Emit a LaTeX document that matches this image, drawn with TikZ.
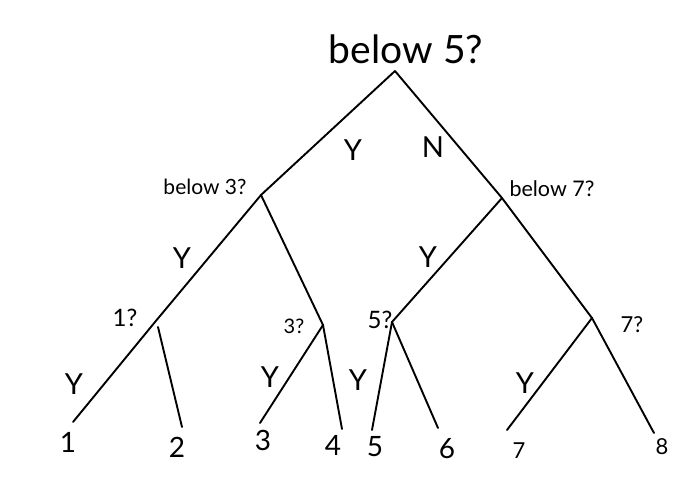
\documentclass[tikz,border=0pt]{standalone}
\usepackage{fontspec}
\setmainfont{Lato}
\tikzset{
  branch/.style={line width=1.9pt, line cap=round},
  lbl/.style={inner sep=0pt, anchor=base},
  big/.style={lbl, font=\fontsize{39}{42}\selectfont},
  yes/.style={lbl, font=\fontsize{29}{32}\selectfont},
  leaf/.style={lbl, font=\fontsize{28}{30}\selectfont},
  small/.style={lbl, font=\fontsize{22}{24}\selectfont},
  ask/.style={lbl, font=\fontsize{22}{24}\selectfont}
}

\begin{document}
\begin{tikzpicture}[x=1pt, y=-1pt]
  \useasboundingbox (0,0) rectangle (689,483);

  \coordinate (R) at (395,71);
  \coordinate (B3) at (261,195);
  \coordinate (B7) at (502,198);
  \coordinate (Q1) at (155,322);
  \coordinate (Q3) at (323,325);
  \coordinate (Q5) at (392,322);
  \coordinate (Q7) at (592,318);

  \coordinate (E1) at (73,422);
  \coordinate (E2) at (182,427);
  \coordinate (E3) at (260,423);
  \coordinate (E4) at (342,429);
  \coordinate (E5) at (372,430);
  \coordinate (E6) at (438,428);
  \coordinate (E7) at (507,430);
  \coordinate (E8) at (654,433);

  \draw[branch] (R) -- (B3);
  \draw[branch] (R) -- (B7);
  \draw[branch] (B3) -- (Q1);
  \draw[branch] (B3) -- (Q3);
  \draw[branch] (B7) -- (Q5);
  \draw[branch] (B7) -- (Q7);
  \draw[branch] (Q1) -- (E1);
  \draw[branch] (Q1) ++(3,5) -- (E2);
  \draw[branch] (Q3) -- (E3);
  \draw[branch] (Q3) -- (E4);
  \draw[branch] (Q5) -- (E5);
  \draw[branch] (Q5) -- (E6);
  \draw[branch] (Q7) -- (E7);
  \draw[branch] (Q7) -- (E8);

  \node[big] (tR) at (406,63) {below 5?};
  \node[ask, font=\fontsize{21}{23}\selectfont] (tB3) at (205,194) {below 3?};
  \node[ask, font=\fontsize{21.5}{23}\selectfont] (tB7) at (552,196) {below 7?};
  \node[ask, font=\fontsize{24}{26}\selectfont] (tQ1) at (125,326) {1?};
  \node[ask, font=\fontsize{20}{22}\selectfont] (tQ3) at (294,333) {3?};
  \node[ask, font=\fontsize{24}{26}\selectfont] (tQ5) at (380,328) {5?};
  \node[ask] (tQ7) at (632,332) {7?};

  \node[yes] (yR) at (353,160) {Y};
  \node[yes] (nR) at (433,157) {N};
  \node[yes] (yB3) at (182,268) {Y};
  \node[yes] (yB7) at (428,267) {Y};
  \node[yes] (yQ1) at (74,394) {Y};
  \node[yes] (yQ3) at (270,387) {Y};
  \node[yes] (yQ5) at (358,390) {Y};
  \node[yes] (yQ7) at (525,393) {Y};

  \node[leaf] (n1) at (68,452) {1};
  \node[leaf] (n2) at (177,457) {2};
  \node[leaf] (n3) at (263,450) {3};
  \node[leaf] (n4) at (333,455) {4};
  \node[leaf] (n5) at (375,456) {5};
  \node[leaf] (n6) at (447,458) {6};
  \node[small] (n7) at (519,458) {7};
  \node[small] (n8) at (662,454) {8};
\end{tikzpicture}
\end{document}
